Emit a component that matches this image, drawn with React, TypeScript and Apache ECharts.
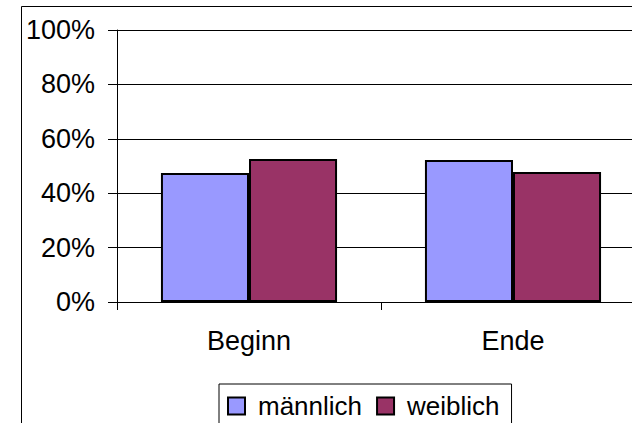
import React, { useEffect, useRef } from "react";
import * as echarts from "echarts";

const categories = ["Beginn", "Ende"];
const maleValues = [47.4, 52.2];
const femaleValues = [52.6, 47.8];
const seriesNames = ["männlich", "weiblich"];
const yTicks = [0, 20, 40, 60, 80, 100];

const FONT = "'Liberation Sans', Arial, sans-serif";

export default function App() {
  const ref = useRef<HTMLDivElement>(null);
  useEffect(() => {
    if (!ref.current) return;
    const chart = echarts.init(ref.current, null, { renderer: "svg" });
    chart.setOption({
      animation: false,
      backgroundColor: "#ffffff",
      textStyle: { fontFamily: FONT },
      graphic: [
        {
          type: "rect",
          z: -10,
          shape: { x: 21.5, y: 6.5, width: 1000, height: 1000 },
          style: { fill: "none", stroke: "#000", lineWidth: 1 },
        },
      ],
      grid: { left: 117, top: 30, width: 528, height: 272 },
      legend: {
        data: seriesNames,
        left: 219,
        top: 384,
        orient: "horizontal",
        icon: "rect",
        itemWidth: 17,
        itemHeight: 17,
        itemGap: 14,
        padding: [9, 12, 60, 8],
        borderColor: "#000",
        borderWidth: 1,
        textStyle: {
          fontFamily: FONT,
          fontSize: 26,
          color: "#000",
          padding: [0, 0, 0, 8],
        },
      },
      xAxis: {
        type: "category",
        data: categories,
        boundaryGap: true,
        axisLine: { show: true, lineStyle: { color: "#000", width: 1 } },
        axisTick: { show: true, length: 8, lineStyle: { color: "#000" } },
        axisLabel: { fontFamily: FONT, fontSize: 27, color: "#000", margin: 25 },
      },
      yAxis: {
        type: "value",
        min: yTicks[0],
        max: yTicks[yTicks.length - 1],
        interval: 20,
        axisLine: { show: true, lineStyle: { color: "#000", width: 1 } },
        axisTick: { show: true, length: 9, lineStyle: { color: "#000" } },
        splitLine: { show: true, lineStyle: { color: "#000", width: 1 } },
        axisLabel: {
          fontFamily: FONT,
          fontSize: 27,
          color: "#000",
          margin: 22,
          formatter: "{value}%",
        },
      },
      series: [
        {
          name: seriesNames[0],
          type: "bar",
          data: maleValues,
          barGap: "0%",
          barCategoryGap: "33.3%",
          itemStyle: { color: "#9999FF", borderColor: "#000", borderWidth: 2 },
        },
        {
          name: seriesNames[1],
          type: "bar",
          data: femaleValues,
          barGap: "0%",
          barCategoryGap: "33.3%",
          itemStyle: { color: "#993366", borderColor: "#000", borderWidth: 2 },
        },
      ],
    });
    return () => chart.dispose();
  }, []);
  return (
    <div
      style={{
        position: "absolute",
        left: 0,
        top: 0,
        width: 632,
        height: 423,
        overflow: "hidden",
        background: "#fff",
      }}
    >
      <div ref={ref} style={{ width: 700, height: 423 }} />
    </div>
  );
}
